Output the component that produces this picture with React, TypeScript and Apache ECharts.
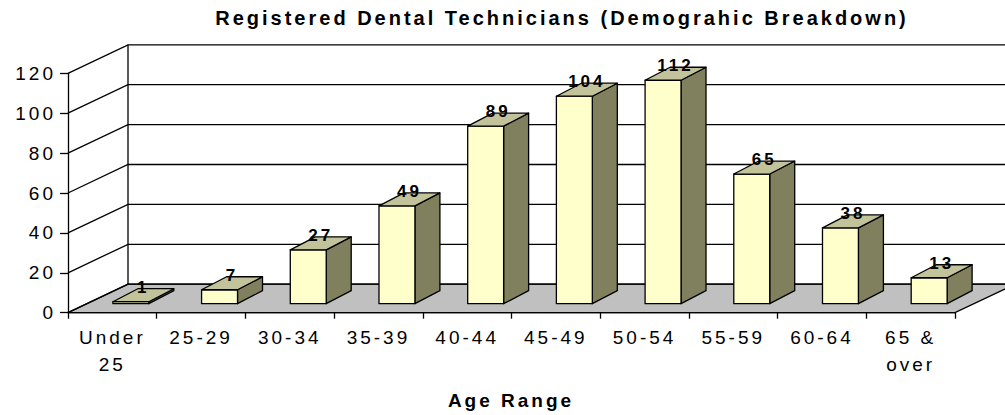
import React, { useEffect, useRef } from "react";
import * as echarts from "echarts";

const categories = ["Under\n25", "25-29", "30-34", "35-39", "40-44", "45-49", "50-54", "55-59", "60-64", "65 &\nover"];
const values = [1, 7, 27, 49, 89, 104, 112, 65, 38, 13];
const yTicks = [0, 20, 40, 60, 80, 100, 120];
const titleText = "Registered Dental Technicians (Demograhic Breakdown)";
const xAxisTitle = "Age Range";

const FONT = "'Liberation Sans', Arial, sans-serif";
const FRONT = "#FFFFCC";
const SIDE = "#80805F";
const TOP = "#C2C29B";
const FLOOR = "#C0C0C0";
const DEPTH_X = 60;
const DEPTH_Y = -28.5;

export default function App() {
  const ref = useRef<HTMLDivElement>(null);
  useEffect(() => {
    if (!ref.current) return;
    const chart = echarts.init(ref.current, undefined, { renderer: "svg" });
    const option: any = {
      animation: false,
      backgroundColor: "#ffffff",
      grid: { left: 68, right: 50, top: 73.3, bottom: 102.3, containLabel: false },
      xAxis: {
        type: "category",
        data: categories,
        boundaryGap: true,
        axisLine: { show: true, lineStyle: { color: "#000", width: 1.3 } },
        axisTick: { show: true, length: 6, lineStyle: { color: "#000", width: 1.3 } },
        axisLabel: { interval: 0, margin: 11, fontSize: 19, lineHeight: 27, color: "#000", fontFamily: FONT },
        splitLine: { show: false },
      },
      yAxis: {
        type: "value",
        min: 0,
        max: 120,
        interval: 20,
        axisLine: { show: true, lineStyle: { color: "#000", width: 1.3 } },
        axisTick: { show: true, length: 8, lineStyle: { color: "#000", width: 1.3 } },
        axisLabel: { margin: 12, fontSize: 19, color: "#000", fontFamily: FONT },
        splitLine: { show: false },
      },
      graphic: [
        {
          type: "text",
          x: 562,
          y: 18,
          style: { text: titleText, fontSize: 20, fontWeight: "bold", fontFamily: FONT, fill: "#000", align: "center", verticalAlign: "middle" },
        },
        {
          type: "text",
          x: 511,
          y: 400,
          style: { text: xAxisTitle, fontSize: 19, fontWeight: "bold", fontFamily: FONT, fill: "#000", align: "center", verticalAlign: "middle" },
        },
      ],
      series: [
        {
          type: "custom",
          data: [[0, yTicks[yTicks.length - 1]]],
          silent: true,
          renderItem: (params: any, api: any) => {
            const cs = params.coordSys;
            const base = api.coord([0, 0]);
            const top = api.coord([0, api.value(1)]);
            const x0 = cs.x;
            const x1 = cs.x + cs.width;
            const y0 = base[1];
            return {
              type: "group",
              children: [
                {
                  type: "polygon",
                  shape: { points: [[x0, y0], [x1, y0], [x1 + DEPTH_X, y0 + DEPTH_Y], [x0 + DEPTH_X, y0 + DEPTH_Y]] },
                  style: { fill: FLOOR, stroke: "#000", lineWidth: 1.3 },
                },
                {
                  type: "line",
                  shape: { x1: x0 + DEPTH_X, y1: y0 + DEPTH_Y, x2: x0 + DEPTH_X, y2: top[1] + DEPTH_Y },
                  style: { stroke: "#000", lineWidth: 1.3 },
                },
              ],
            };
          },
        },
        {
          type: "custom",
          data: yTicks.map((v) => [0, v]),
          silent: true,
          renderItem: (params: any, api: any) => {
            const cs = params.coordSys;
            const v = api.value(1);
            const p = api.coord([0, v]);
            const x0 = cs.x;
            const y = p[1];
            const isTop = v === yTicks[yTicks.length - 1];
            return {
              type: "polyline",
              shape: { points: [[x0, y], [x0 + DEPTH_X, y + DEPTH_Y], [x0 + cs.width + DEPTH_X, y + DEPTH_Y]] },
              style: { stroke: isTop ? "#000" : "#000", lineWidth: 1.3, fill: "none" },
            };
          },
        },
        {
          type: "custom",
          data: values.map((v, i) => [i, v]),
          renderItem: (params: any, api: any) => {
            const i = api.value(0);
            const v = api.value(1);
            const base = api.coord([i, 0]);
            const top = api.coord([i, v]);
            const w = api.size([1, 0])[0] * 0.405;
            const ox = 18.5, oy = -9, dx = 25, dy = -13;
            const xl = base[0] + ox - w / 2;
            const xr = xl + w;
            const yb = base[1] + oy;
            const yt = top[1] + oy;
            const stroke = { stroke: "#000", lineWidth: 1.3, lineJoin: "round" };
            return {
              type: "group",
              children: [
                {
                  type: "polygon",
                  shape: { points: [[xr, yt], [xr, yb], [xr + dx, yb + dy], [xr + dx, yt + dy]] },
                  style: { fill: SIDE, ...stroke },
                },
                {
                  type: "rect",
                  shape: { x: xl, y: yt, width: w, height: yb - yt },
                  style: { fill: FRONT, ...stroke },
                },
                {
                  type: "polygon",
                  shape: { points: [[xl, yt], [xr, yt], [xr + dx, yt + dy], [xl + dx, yt + dy]] },
                  style: { fill: TOP, ...stroke },
                },
                {
                  type: "text",
                  x: xl + w / 2 + dx / 2,
                  y: yt + dy + 7,
                  style: { text: String(v), fontSize: 17, fontWeight: "bold", fontFamily: FONT, fill: "#000", align: "center", verticalAlign: "bottom" },
                },
              ],
            };
          },
        },
      ],
    };
    chart.setOption(option);
    return () => chart.dispose();
  }, []);
  return (
    <div
      ref={ref}
      style={{ position: "fixed", left: 0, top: 0, width: 1005, height: 415, letterSpacing: "3px", background: "#fff" }}
    />
  );
}
